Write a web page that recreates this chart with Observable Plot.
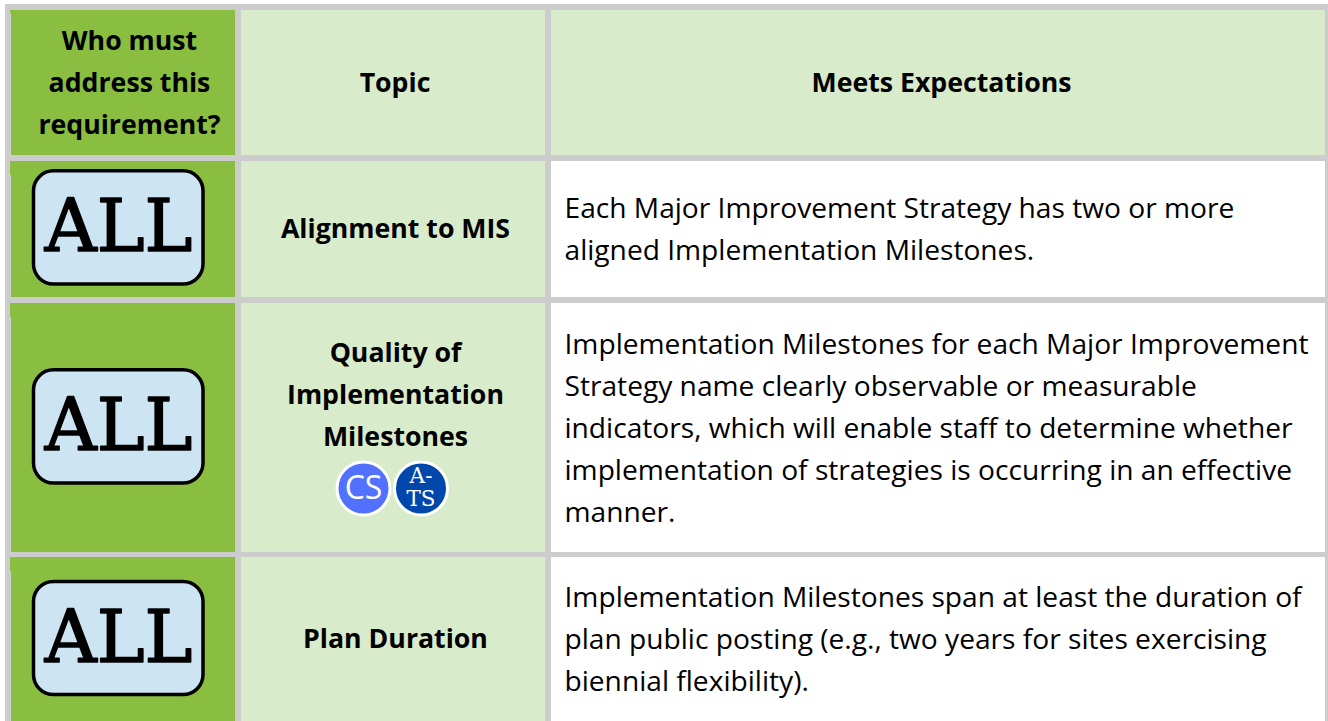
<!DOCTYPE html>
<html>
<head>
<meta charset="utf-8">
<script src="https://cdn.jsdelivr.net/npm/d3@7"></script>
<script src="https://cdn.jsdelivr.net/npm/@observablehq/plot@0.6"></script>
<style>
html,body{margin:0;padding:0;background:#fff;overflow:hidden}
svg{display:block}
</style>
</head>
<body>
<div id="chart"></div>
<script>
const headers = ["Who must\naddress this\nrequirement?", "Topic", "Meets Expectations"];
const audience = ["ALL", "ALL", "ALL"];
const topics = ["Alignment to MIS", "Quality of\nImplementation\nMilestones", "Plan Duration"];
const expectations = [
  "Each Major Improvement Strategy has two or more\naligned Implementation Milestones.",
  "Implementation Milestones for each Major Improvement\nStrategy name clearly observable or measurable\nindicators, which will enable staff to determine whether\nimplementation of strategies is occurring in an effective\nmanner.",
  "Implementation Milestones span at least the duration of\nplan public posting (e.g., two years for sites exercising\nbiennial flexibility)."
];
const programBadges = ["CS", "A-\nTS"];

// table layout, in picture units
const colLeft = [11, 241, 551];
const colRight = [235, 545, 1325];
const rowTop = [10, 161, 303, 557];
const rowBottom = [155, 297, 552, 721];
const bodyRows = [1, 2, 3];
const badgeCenterY = [227.4, 426.4, 638];
const allTextY = [227, 426, 638];
const topicY = [224.5, 390.5, 634.5];
const bodyY = [225, 424, 635];
const badgeY = 488;
const badgeX = [363, 420.5];

const grey = "#cccccc", green = "#89be40", pale = "#d8ebca", sky = "#cde4f2";

const cells = [];
rowTop.forEach((_, r) => colLeft.forEach((_, c) => cells.push({
  x1: colLeft[c], x2: colRight[c], y1: rowTop[r], y2: rowBottom[r],
  fill: c === 0 ? green : (r === 0 || c === 1) ? pale : "#ffffff"
})));

const sans = "'Open Sans'";
const slab = "'DejaVu Serif'";
const headSize = 26.7, bodySize = 28.15;

const chart = Plot.plot({
  width: 1328, height: 721,
  marginTop: 0, marginRight: 0, marginBottom: 0, marginLeft: 0,
  style: {background: "#fff"},
  x: {type: "linear", domain: [0, 1328], range: [0, 1328], axis: null},
  y: {type: "linear", domain: [0, 721], range: [0, 721], axis: null},
  marks: [
    Plot.rect([{x1: 5, x2: 1328, y1: 4, y2: 721}], {x1: "x1", x2: "x2", y1: "y1", y2: "y2", fill: grey}),
    Plot.rect(cells, {x1: "x1", x2: "x2", y1: "y1", y2: "y2", fill: d => d.fill}),
    // small overhang of the green cells on the grey rule
    Plot.rect(bodyRows.concat([0]), {x1: 10, x2: 11, y1: r => rowTop[r], y2: r => rowTop[r] + (r === 0 ? 3 : 14), fill: green}),
    Plot.text(headers, {
      x: (d, i) => (colLeft[i] + colRight[i]) / 2 + (i === 0 ? 6 : i === 1 ? 1.5 : 3), y: 78.5, text: d => d,
      fontFamily: sans, fontWeight: 700, fontSize: headSize, fill: "#000", lineHeight: 42 / headSize, lineAnchor: "middle"
    }),
    Plot.rect(audience, {
      x1: 33.5, x2: 203, y1: (d, i) => badgeCenterY[i] - 56.6, y2: (d, i) => badgeCenterY[i] + 56.6,
      rx: 20, fill: sky, stroke: "#000", strokeWidth: 3.5
    }),
    Plot.text(audience, {
      x: 118, y: allTextY, text: d => d,
      fontFamily: slab, fontWeight: 400, fontSize: 72, fill: "#000", stroke: "#000", strokeWidth: 1.6, lineAnchor: "middle"
    }),
    Plot.text(topics, {
      x: (colLeft[1] + colRight[1]) / 2 + 2, y: (d, i) => topicY[i], text: d => d,
      fontFamily: sans, fontWeight: 700, fontSize: headSize, fill: "#000", lineHeight: 42 / headSize, lineAnchor: "middle"
    }),
    Plot.text(expectations, {
      x: 564, y: (d, i) => bodyY[i], text: d => d, textAnchor: "start",
      fontFamily: sans, fontWeight: 400, fontSize: bodySize, fill: "#000", lineHeight: 42 / bodySize, lineAnchor: "middle"
    }),
    Plot.dot(programBadges, {x: (d, i) => badgeX[i], y: badgeY, r: 26.5, fill: (d, i) => ["#5271ff", "#0047ab"][i], stroke: "#fff", strokeWidth: 3}),
    Plot.text(["CS"], {x: badgeX[0], y: badgeY, text: d => d, fontFamily: sans, fontWeight: 400, fontSize: 32, fill: "#fff", lineAnchor: "middle"}),
    Plot.text(["A-\nTS"], {x: badgeX[1], y: badgeY - 1, text: d => d, fontFamily: slab, fontSize: 21.5, fill: "#fff", lineHeight: 1.07, lineAnchor: "middle"})
  ]
});
document.getElementById("chart").append(chart);
</script>
</body>
</html>
